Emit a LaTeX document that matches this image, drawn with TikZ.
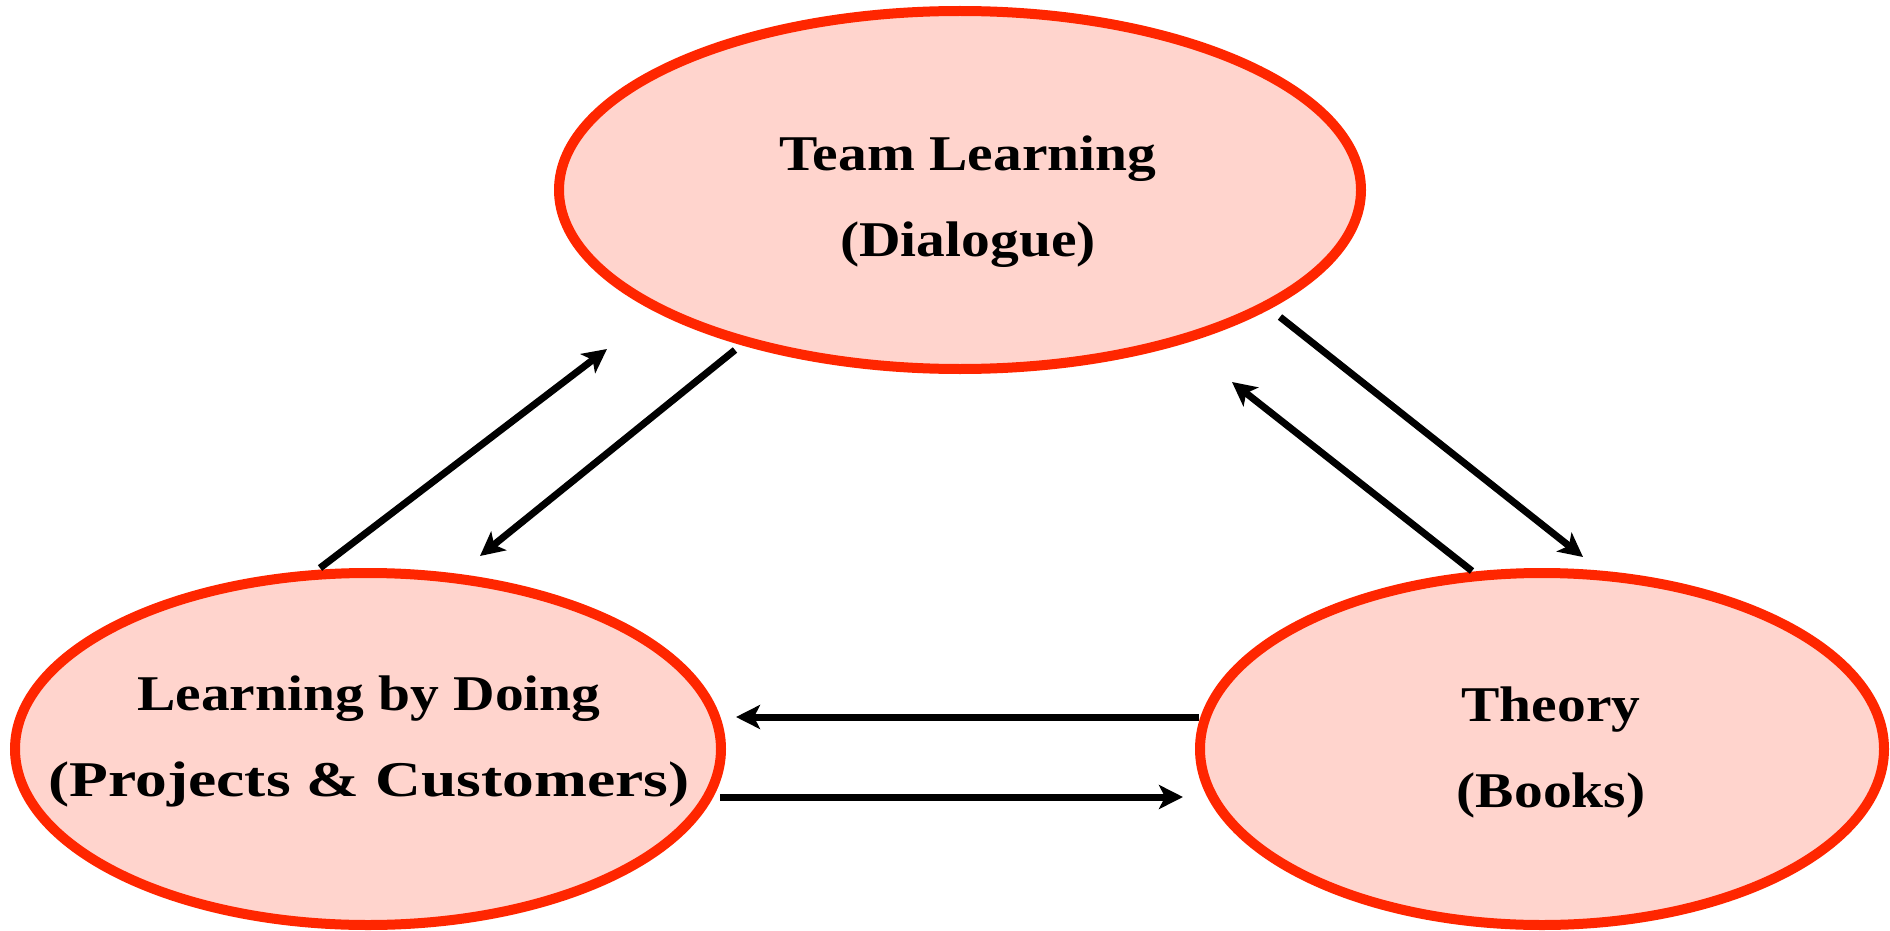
\documentclass[tikz,border=0pt]{standalone}
\usepackage{fontspec}
\newfontfamily\labfont[FakeStretch=1.15]{Liberation Serif}
\newfontfamily\labwide[FakeStretch=1.27]{Liberation Serif}
\usetikzlibrary{shapes.geometric,arrows.meta}
\definecolor{ringred}{HTML}{FF2600}
\definecolor{ringfill}{HTML}{FFD4CD}
\begin{document}
\begin{tikzpicture}[x=1pt,y=-1pt,
  blob/.style={ellipse,draw=ringred,fill=ringfill,line width=10pt,inner sep=0pt},
  lab/.style={align=center,font=\labfont\bfseries\fontsize{50}{86}\selectfont,inner sep=0pt},
  link/.style={line width=7pt,-{Stealth[length=24pt,width=24pt,inset=6pt]}}]
\useasboundingbox (0,0) rectangle (1890,931);
% ellipses
\node[blob,minimum width=802pt,minimum height=358pt] (team) at (960,190) {};
\node[blob,minimum width=706pt,minimum height=352pt] (doing) at (368,749) {};
\node[blob,minimum width=684pt,minimum height=352pt] (theory) at (1542,749) {};
% labels
\node[lab] (teamtxt) at (968,202) {Team Learning\\(Dialogue)};
\node[lab] (doingtxt) at (369,741) {Learning by Doing\\{\labwide\bfseries(Projects \& Customers)}};
\node[lab] (theorytxt) at (1551,752) {Theory\\(Books)};
% connector end points
\coordinate (a1) at (320,568); \coordinate (a2) at (607,349);
\coordinate (b1) at (735,350); \coordinate (b2) at (480,556);
\coordinate (c1) at (1280,317); \coordinate (c2) at (1583,557);
\coordinate (d1) at (1472,571); \coordinate (d2) at (1232,382);
\coordinate (e1) at (1199,717); \coordinate (e2) at (736,717);
\coordinate (f1) at (720,797); \coordinate (f2) at (1183,797);
% connectors
\draw[link] (a1) -- (a2);
\draw[link] (b1) -- (b2);
\draw[link] (c1) -- (c2);
\draw[link] (d1) -- (d2);
\draw[link] (e1) -- (e2);
\draw[link] (f1) -- (f2);
\end{tikzpicture}
\end{document}
